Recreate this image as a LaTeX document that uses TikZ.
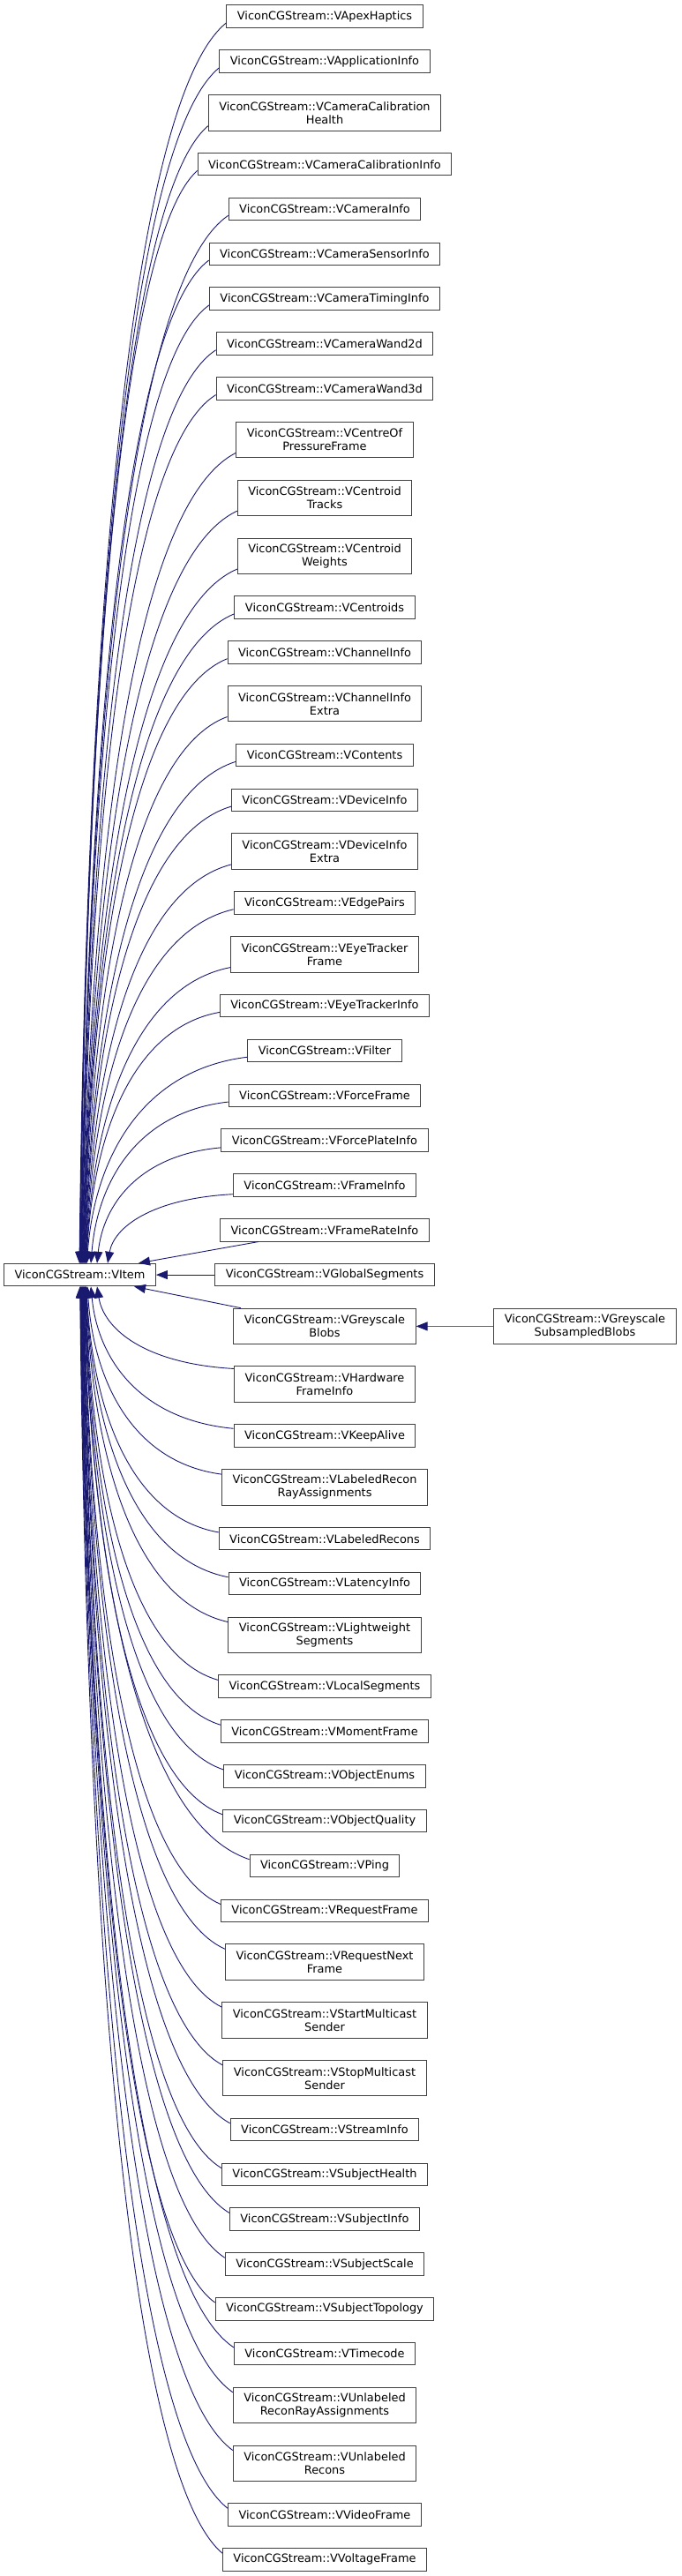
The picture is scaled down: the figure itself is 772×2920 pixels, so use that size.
\documentclass[tikz,border=0pt]{standalone}
\usepackage{fontspec}
\setmainfont{DejaVu Sans}
\usetikzlibrary{arrows.meta,calc}
\definecolor{edgecol}{HTML}{191970}
\definecolor{lightedge}{HTML}{5A5EA6}
\definecolor{boxcol}{HTML}{404040}
\newcommand\curveedge[2]{%
  \draw[edge] let \p1=#1, \p4=#2,
    \p2=({\x1+0.65*(\x4-\x1)},{\y1+0.062*(\y4-\y1)}),
    \p3=({\x4+0.05*(\x1-\x4)},{\y4+0.52*(\y1-\y4)}) in
    (\p1) .. controls (\p2) and (\p3) .. (\p4);}
\begin{document}
\begin{tikzpicture}[x=1pt,y=-1pt,
  cls/.style={draw=boxcol, line width=1pt, fill=white, text=black,
    inner xsep=12pt, inner ysep=2pt, minimum height=25.5pt,
    font=\fontsize{12.9}{15}\selectfont, align=center},
  cls2/.style={cls, minimum height=40.5pt},
  edge/.style={draw=edgecol, line width=0.9pt, -{Triangle[length=13pt,width=10pt]}}]
\useasboundingbox (0,0) rectangle (772,2920);

\node[cls] (VItem) at (90.5,1445.07) {ViconCGStream::VItem};

\node[cls]  (n1)  at (368,18.75)   {ViconCGStream::VApexHaptics};
\node[cls]  (n2)  at (368,69.57)   {ViconCGStream::VApplicationInfo};
\node[cls2] (n3)  at (368,127.89)  {ViconCGStream::VCameraCalibration\\Health};
\node[cls]  (n4)  at (368,186.21)  {ViconCGStream::VCameraCalibrationInfo};
\node[cls]  (n5)  at (368,237.03)  {ViconCGStream::VCameraInfo};
\node[cls]  (n6)  at (368,287.85)  {ViconCGStream::VCameraSensorInfo};
\node[cls]  (n7)  at (368,338.67)  {ViconCGStream::VCameraTimingInfo};
\node[cls]  (n8)  at (368,389.49)  {ViconCGStream::VCameraWand2d};
\node[cls]  (n9)  at (368,440.31)  {ViconCGStream::VCameraWand3d};
\node[cls2] (n10) at (368,498.63)  {ViconCGStream::VCentreOf\\PressureFrame};
\node[cls2] (n11) at (368,564.45)  {ViconCGStream::VCentroid\\Tracks};
\node[cls2] (n12) at (368,630.27)  {ViconCGStream::VCentroid\\Weights};
\node[cls]  (n13) at (368,688.59)  {ViconCGStream::VCentroids};
\node[cls]  (n14) at (368,739.41)  {ViconCGStream::VChannelInfo};
\node[cls2] (n15) at (368,797.73)  {ViconCGStream::VChannelInfo\\Extra};
\node[cls]  (n16) at (368,856.05)  {ViconCGStream::VContents};
\node[cls]  (n17) at (368,906.87)  {ViconCGStream::VDeviceInfo};
\node[cls2] (n18) at (368,965.19)  {ViconCGStream::VDeviceInfo\\Extra};
\node[cls]  (n19) at (368,1023.51) {ViconCGStream::VEdgePairs};
\node[cls2] (n20) at (368,1081.83) {ViconCGStream::VEyeTracker\\Frame};
\node[cls]  (n21) at (368,1140.15) {ViconCGStream::VEyeTrackerInfo};
\node[cls]  (n22) at (368,1190.97) {ViconCGStream::VFilter};
\node[cls]  (n23) at (368,1241.79) {ViconCGStream::VForceFrame};
\node[cls]  (n24) at (368,1292.61) {ViconCGStream::VForcePlateInfo};
\node[cls]  (n25) at (368,1343.43) {ViconCGStream::VFrameInfo};
\node[cls]  (n26) at (368,1394.25) {ViconCGStream::VFrameRateInfo};
\node[cls]  (n27) at (368,1445.07) {ViconCGStream::VGlobalSegments};
\node[cls2] (n28) at (368,1503.39) {ViconCGStream::VGreyscale\\Blobs};
\node[cls2] (n29) at (368,1569.21) {ViconCGStream::VHardware\\FrameInfo};
\node[cls]  (n30) at (368,1627.53) {ViconCGStream::VKeepAlive};
\node[cls2] (n31) at (368,1685.85) {ViconCGStream::VLabeledRecon\\RayAssignments};
\node[cls]  (n32) at (368,1744.17) {ViconCGStream::VLabeledRecons};
\node[cls]  (n33) at (368,1794.99) {ViconCGStream::VLatencyInfo};
\node[cls2] (n34) at (368,1853.31) {ViconCGStream::VLightweight\\Segments};
\node[cls]  (n35) at (368,1911.63) {ViconCGStream::VLocalSegments};
\node[cls]  (n36) at (368,1962.45) {ViconCGStream::VMomentFrame};
\node[cls]  (n37) at (368,2013.27) {ViconCGStream::VObjectEnums};
\node[cls]  (n38) at (368,2064.09) {ViconCGStream::VObjectQuality};
\node[cls]  (n39) at (368,2114.91) {ViconCGStream::VPing};
\node[cls]  (n40) at (368,2165.73) {ViconCGStream::VRequestFrame};
\node[cls2] (n41) at (368,2224.05) {ViconCGStream::VRequestNext\\Frame};
\node[cls2] (n42) at (368,2289.87) {ViconCGStream::VStartMulticast\\Sender};
\node[cls2] (n43) at (368,2355.69) {ViconCGStream::VStopMulticast\\Sender};
\node[cls]  (n44) at (368,2414.01) {ViconCGStream::VStreamInfo};
\node[cls]  (n45) at (368,2464.83) {ViconCGStream::VSubjectHealth};
\node[cls]  (n46) at (368,2515.65) {ViconCGStream::VSubjectInfo};
\node[cls]  (n47) at (368,2566.47) {ViconCGStream::VSubjectScale};
\node[cls]  (n48) at (368,2617.29) {ViconCGStream::VSubjectTopology};
\node[cls]  (n49) at (368,2668.11) {ViconCGStream::VTimecode};
\node[cls2] (n50) at (368,2726.43) {ViconCGStream::VUnlabeled\\ReconRayAssignments};
\node[cls2] (n51) at (368,2792.25) {ViconCGStream::VUnlabeled\\Recons};
\node[cls]  (n52) at (368,2850.57) {ViconCGStream::VVideoFrame};
\node[cls]  (n53) at (368,2901.39) {ViconCGStream::VVoltageFrame};

\node[cls2] (sub) at (663,1503.39) {ViconCGStream::VGreyscale\\SubsampledBlobs};

% upper edges
\foreach \i in {1,...,22} {
  \pgfmathsetmacro\dxe{(\i-1)*0.4-0.5}
  \curveedge{($(n\i.south west)+(0,-6)$)}{([xshift=\dxe pt]VItem.north)}
}
\curveedge{($(n23.south west)+(0,-6)$)}{([xshift=12.5pt]VItem.north)}
\curveedge{($(n24.south west)+(0,-5)$)}{([xshift=19.5pt]VItem.north)}
\curveedge{($(n25.south west)+(0,-3)$)}{([xshift=31.5pt]VItem.north)}
\draw[edge] ([xshift=44pt]n26.south west) -- ([xshift=66.5pt]VItem.north);
\draw[edge] (n27) -- (VItem);

% lower edges
\draw[edge] ([xshift=8.5pt]n28.north west) -- ([xshift=61.5pt]VItem.south);
\curveedge{($(n29.north west)+(0,3)$)}{([xshift=19.5pt]VItem.south)}
\curveedge{($(n30.north west)+(0,5)$)}{([xshift=12.5pt]VItem.south)}
\curveedge{($(n31.north west)+(0,6)$)}{([xshift=8.5pt]VItem.south)}
\foreach \i in {32,...,53} {
  \pgfmathsetmacro\dxe{7.5-(\i-32)*0.35}
  \curveedge{($(n\i.north west)+(0,6)$)}{([xshift=\dxe pt]VItem.south)}
}

\draw[draw=lightedge, line width=0.9pt, -{Triangle[length=13pt,width=10pt,color=edgecol]}] (sub) -- (n28);
\end{tikzpicture}
\end{document}
